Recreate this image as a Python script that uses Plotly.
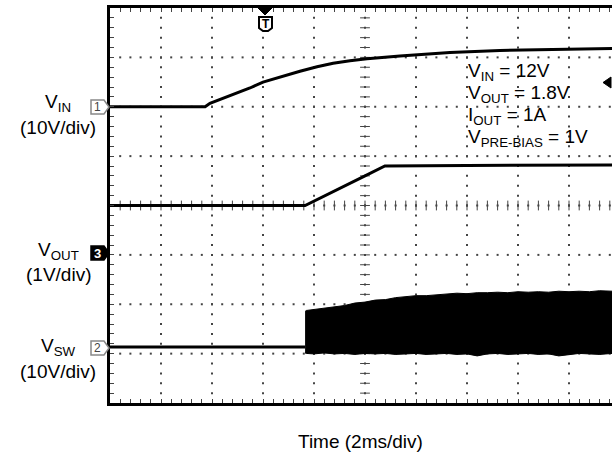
import plotly.graph_objects as go

# time in ms (2 ms/div), voltages in V
vin_t = [0.0, 3.73, 3.92, 4.82, 5.49, 6.0, 6.78, 7.45, 8.12, 8.75, 9.41, 10.08,
         11.37, 13.33, 15.29, 17.25, 19.69]
vin_v = [0.0, 0.0, 0.7, 2.4, 3.8, 5.0, 6.2, 7.2, 8.1, 8.8, 9.3, 9.7,
         10.3, 11.0, 11.4, 11.6, 11.8]

vout_t = [0.0, 7.65, 10.0, 10.78, 14.0, 19.69]
vout_v = [1.0, 1.0, 1.6, 1.8, 1.81, 1.82]

vsw_idle_t = [0.0, 7.65]
vsw_idle_v = [0.0, 0.0]

vsw_t = [7.65, 7.7, 8.0, 8.4, 8.8, 9.2, 9.6, 10.0, 10.4, 10.8, 11.2, 11.6, 12.0,
         12.4, 12.8, 13.2, 13.6, 14.0, 14.4, 14.8, 15.2, 15.6, 16.0, 16.4, 16.8,
         17.2, 17.6, 18.0, 18.4, 18.8, 19.2, 19.7]
vsw_hi = [7.2, 7.4, 7.6, 7.9, 8.2, 8.4, 8.9, 9.1, 9.5, 9.6, 10.0, 10.2, 10.4,
          10.4, 10.6, 10.7, 10.9, 10.8, 11.0, 11.0, 11.1, 11.0, 11.2, 11.1, 11.2,
          11.1, 11.3, 11.2, 11.3, 11.2, 11.4, 11.3]
vsw_lo = [-1.2, -1.3, -1.4, -1.2, -1.4, -1.3, -1.5, -1.3, -1.4, -1.3, -1.5, -1.4,
          -1.3, -1.5, -1.4, -1.3, -1.5, -1.4, -1.8, -1.4, -1.3, -1.5, -1.4, -1.3,
          -1.5, -1.4, -1.8, -1.5, -1.3, -1.4, -1.5, -1.3]

conditions = ['V<sub>IN</sub> = 12V', 'V<sub>OUT</sub> = 1.8V',
              'I<sub>OUT</sub> = 1A', 'V<sub>PRE-BIAS</sub> = 1V']

W, H = 612, 455
L, T, B = 110, 8, 52
X_MAX = (W - L) / 51 * 2
FONT = 'Liberation Sans, Arial, sans-serif'


def pxx(x):
    return (x - L) / (W - L)


def pxy(y):
    return (H - B - y) / (H - B - T)


def path(points):
    return 'M ' + ' L '.join(f'{pxx(x)},{pxy(y)}' for x, y in points) + ' Z'


fig = go.Figure()

# graticule dots
dx, dy = [], []
for k in range(1, 10):
    for j in range(1, 40):
        dx.append(2 * k)
        dy.append(0.2 * j)
for k in range(1, 8):
    for j in range(1, 50):
        dx.append(0.4 * j)
        dy.append(k)
fig.add_trace(go.Scatter(x=dx, y=dy, mode='markers', hoverinfo='skip',
                         marker=dict(size=2, color='#444', symbol='square')))

# center cross ticks
fig.add_trace(go.Scatter(x=[10] * 39, y=[0.2 * j for j in range(1, 40)],
                         mode='markers', hoverinfo='skip',
                         marker=dict(symbol='line-ew', size=7,
                                     line=dict(width=1, color='#444'))))
fig.add_trace(go.Scatter(x=[0.4 * j for j in range(1, 50)], y=[4] * 49,
                         mode='markers', hoverinfo='skip',
                         marker=dict(symbol='line-ns', size=7,
                                     line=dict(width=1, color='#444'))))

# signals
fig.add_trace(go.Scatter(x=vin_t, y=vin_v, yaxis='y2', mode='lines',
                         line=dict(color='black', width=3)))
fig.add_trace(go.Scatter(x=vout_t, y=vout_v, yaxis='y3', mode='lines',
                         line=dict(color='black', width=3)))
fig.add_trace(go.Scatter(x=vsw_idle_t, y=vsw_idle_v, yaxis='y4', mode='lines',
                         line=dict(color='black', width=3)))
fig.add_trace(go.Scatter(x=vsw_t, y=vsw_lo, yaxis='y4', mode='lines',
                         line=dict(color='black', width=1)))
fig.add_trace(go.Scatter(x=vsw_t, y=vsw_hi, yaxis='y4', mode='lines',
                         fill='tonexty', fillcolor='black',
                         line=dict(color='black', width=1)))

shapes = [
    # channel markers
    dict(type='path', xref='paper', yref='paper',
         path=path([(91, 100), (104, 100), (109, 107), (104, 114), (91, 114)]),
         line=dict(color='#888', width=1.5), fillcolor='white'),
    dict(type='path', xref='paper', yref='paper',
         path=path([(91, 246), (104, 246), (109, 253), (104, 260), (91, 260)]),
         line=dict(color='black', width=1.5), fillcolor='black'),
    dict(type='path', xref='paper', yref='paper',
         path=path([(91, 341), (104, 341), (109, 348), (104, 355), (91, 355)]),
         line=dict(color='#888', width=1.5), fillcolor='white'),
    # trigger position / level
    dict(type='path', xref='paper', yref='paper',
         path=path([(258, 8), (272, 8), (265, 15)]),
         line=dict(color='black', width=1), fillcolor='black'),
    dict(type='path', xref='paper', yref='paper',
         path=path([(259, 17), (272, 17), (272, 28), (268, 31), (263, 31), (259, 28)]),
         line=dict(color='black', width=2), fillcolor='white'),
    dict(type='path', xref='paper', yref='paper',
         path=path([(611, 77), (611, 88), (603, 82.5)]),
         line=dict(color='black', width=1), fillcolor='black'),
]

ann = []


def text(x, y, s, size=19, anchor='center', color='black', bold=False):
    ann.append(dict(x=pxx(x), y=pxy(y), xref='paper', yref='paper', text=s,
                    showarrow=False, xanchor=anchor, yanchor='middle',
                    font=dict(family=FONT, size=size, color=color,
                              weight='bold' if bold else 'normal')))


text(58, 103, 'V<sub>IN</sub>')
text(58, 127, '(10V/div)')
text(58, 251, 'V<sub>OUT</sub>')
text(58, 274, '(1V/div)')
text(58, 347, 'V<sub>SW</sub>')
text(58, 371, '(10V/div)')
text(360, 441, 'Time (2ms/div)')
text(97.5, 107, '1', size=12, color='#444')
text(97.5, 253, '3', size=13, color='white', bold=True)
text(97.5, 348, '2', size=12, color='#444')
text(265.5, 24, 'T', size=12, bold=True)
for i, s in enumerate(conditions):
    text(466, 72 + 22 * i, s, anchor='left')

hidden = dict(visible=False, overlaying='y', showgrid=False, zeroline=False)

fig.update_layout(
    width=W, height=H,
    margin=dict(l=L, r=0, t=T, b=B),
    paper_bgcolor='white', plot_bgcolor='white',
    showlegend=False,
    font=dict(family=FONT),
    xaxis=dict(range=[0, X_MAX], showgrid=False, zeroline=False,
               showline=True, linecolor='black', linewidth=3, mirror='ticks',
               ticks='inside', tick0=0, dtick=0.4, ticklen=4, tickwidth=1,
               tickcolor='#444', showticklabels=False),
    yaxis=dict(range=[0, 8], showgrid=False, zeroline=False,
               showline=True, linecolor='black', linewidth=3,
               ticks='inside', tick0=0, dtick=0.2, ticklen=4, tickwidth=1,
               tickcolor='#444', showticklabels=False),
    yaxis2=dict(range=[-60, 20], **hidden),
    yaxis3=dict(range=[-3, 5], **hidden),
    yaxis4=dict(range=[-11.34, 68.66], **hidden),
    shapes=shapes,
    annotations=ann,
)

fig.write_html('out.html', config={'displayModeBar': False},
               post_script="document.body.style.margin='0';")
